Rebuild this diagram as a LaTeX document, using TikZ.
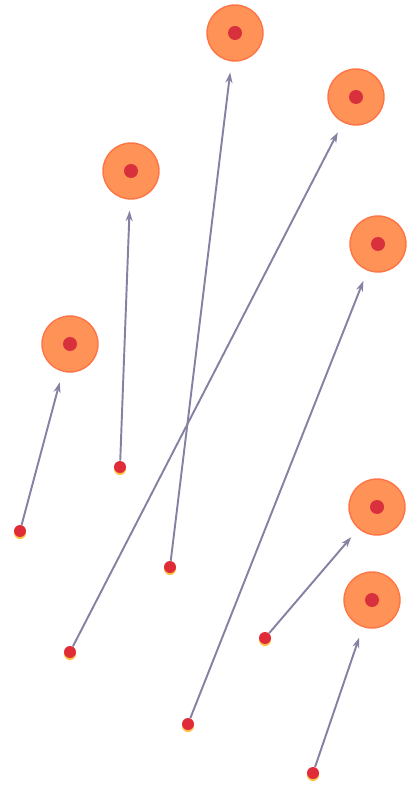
\documentclass[tikz,border=0pt]{standalone}
\usepackage{tikz}
\usepackage{xcolor}
\usetikzlibrary{arrows.meta}
\definecolor{tgtfill}{HTML}{FF9256}
\definecolor{tgtring}{HTML}{FF7446}
\definecolor{tgtcore}{HTML}{D8303C}
\definecolor{srcred}{HTML}{E02C38}
\definecolor{srcglow}{HTML}{FFC24A}
\definecolor{linkgray}{HTML}{8482A2}
\definecolor{tipgray}{HTML}{5A5868}

\begin{document}
\begin{tikzpicture}[
    x=0.02cm, y=-0.02cm,
    tgt/.style={circle, draw=tgtring, line width=0.8pt, fill=tgtfill, minimum size=1.12cm, inner sep=0pt,
        path picture={\fill[tgtcore] (path picture bounding box.center) circle (0.14cm);}},
    src/.style={circle, fill=srcred, minimum size=0.24cm, inner sep=0pt,
        preaction={fill=srcglow, transform canvas={yshift=-1.2pt}}},
    arr/.style={-{Stealth[length=6pt, width=4pt, fill=tipgray]}, draw=linkgray, line width=1.1pt, shorten >=0.22cm}
]
\useasboundingbox (0,0) rectangle (416,786);

% targets
\node[tgt] (tgt1) at (235,33) {};
\node[tgt] (tgt2) at (356,97) {};
\node[tgt] (tgt3) at (131,171) {};
\node[tgt] (tgt4) at (378,244) {};
\node[tgt] (tgt5) at (70,344) {};
\node[tgt] (tgt6) at (377,507) {};
\node[tgt] (tgt7) at (372,600) {};

% sources
\node[src] (src1) at (20,531) {};
\node[src] (src2) at (120,467) {};
\node[src] (src3) at (170,567) {};
\node[src] (src4) at (70,652) {};
\node[src] (src5) at (188,724) {};
\node[src] (src6) at (265,638) {};
\node[src] (src7) at (313,773) {};

\draw[arr] (src1) -- (tgt5);
\draw[arr] (src2) -- (tgt3);
\draw[arr] (src3) -- (tgt1);
\draw[arr] (src4) -- (tgt2);
\draw[arr] (src5) -- (tgt4);
\draw[arr] (src6) -- (tgt6);
\draw[arr] (src7) -- (tgt7);

\end{tikzpicture}
\end{document}
